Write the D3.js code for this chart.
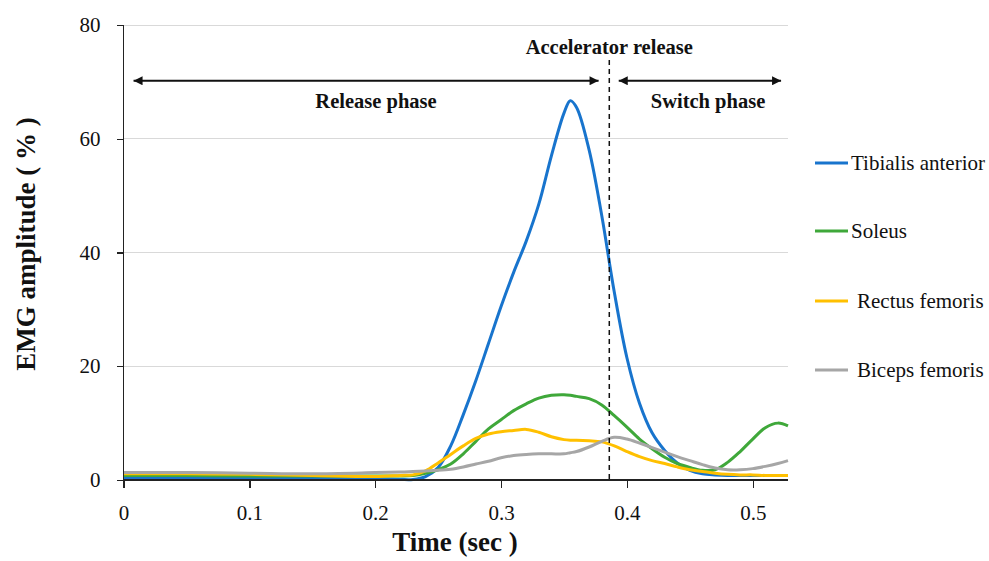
<!DOCTYPE html>
<html lang="en">
<head>
<meta charset="utf-8">
<title>EMG amplitude</title>
<script src="https://d3js.org/d3.v7.min.js"></script>
<style>
  body { margin: 0; background: #fff; }
  svg text { font-family: "Palatino Linotype", "Book Antiqua", Palatino, "Liberation Serif", serif; fill: #111; }
  .axis path, .axis line { stroke: #222; stroke-width: 1.3; shape-rendering: crispEdges; }
  .axis text { font-size: 21px; }
  .grid line { stroke: #d9d9d9; stroke-width: 1; shape-rendering: crispEdges; }
  .series { fill: none; stroke-width: 3; stroke-linejoin: round; }
  .note { font-weight: bold; font-size: 20.5px; }
  .title { font-weight: bold; font-size: 27px; }
  .legend text { font-size: 21px; }
</style>
</head>
<body>
<script>
// time (sec)
var time = [0, 0.05, 0.1, 0.15, 0.2, 0.22, 0.23, 0.24, 0.25, 0.26, 0.27, 0.28, 0.29, 0.30,
            0.31, 0.32, 0.33, 0.34, 0.35, 0.355, 0.36, 0.37, 0.38, 0.39, 0.40, 0.41, 0.42,
            0.43, 0.44, 0.45, 0.46, 0.47, 0.48, 0.49, 0.50, 0.51, 0.52, 0.528];

// EMG amplitude (%)
var tibialis = [0.4, 0.4, 0.4, 0.3, 0.2, 0.1, 0.1, 0.6, 2.2, 6, 11.5, 17.5, 24, 30.5,
                36.5, 42, 48.5, 57, 64.5, 66.7, 65.5, 58, 46.5, 33, 21.5, 13.5, 8.3,
                5.2, 3, 1.7, 1.1, 0.9, 0.8, 0.8, 0.8, 0.8, 0.8, 0.8];
var soleus = [0.8, 0.8, 0.7, 0.7, 0.7, 0.7, 0.8, 1.2, 1.8, 2.8, 4.6, 6.8, 9, 10.6,
              12.2, 13.4, 14.4, 14.9, 15.0, 14.9, 14.7, 14.3, 13.2, 11.3, 9.3, 7.2, 5.5,
              4.0, 2.9, 2.2, 1.7, 1.8, 3.1, 5.0, 7.2, 9.2, 10.0, 9.5];
var rectus = [1.1, 1.1, 1.0, 0.8, 0.6, 0.8, 0.9, 1.6, 3.0, 4.5, 6.0, 7.3, 8.1, 8.5,
              8.7, 8.9, 8.4, 7.6, 7.1, 7.0, 7.0, 6.9, 6.7, 6.0, 5.0, 4.1, 3.4,
              2.9, 2.3, 1.8, 1.5, 1.2, 1.0, 0.9, 0.9, 0.8, 0.8, 0.8];
var biceps = [1.3, 1.3, 1.2, 1.1, 1.3, 1.4, 1.5, 1.6, 1.7, 1.9, 2.3, 2.8, 3.3, 3.9,
              4.3, 4.5, 4.6, 4.6, 4.6, 4.8, 5.0, 5.8, 6.8, 7.5, 7.2, 6.5, 5.7,
              4.9, 4.1, 3.4, 2.7, 2.1, 1.8, 1.8, 2.0, 2.4, 2.9, 3.4];

var seriesNames = ["Tibialis anterior", "Soleus", "Rectus femoris", "Biceps femoris"];
var seriesValues = [tibialis, soleus, rectus, biceps];
var seriesColors = ["#1874cd", "#3fa83a", "#ffc000", "#a6a6a6"];

var xTicks = [0, 0.1, 0.2, 0.3, 0.4, 0.5];
var yTicks = [0, 20, 40, 60, 80];

// annotations, in data units
var releaseTime = 0.386;
var arrowLevel = 70.2;
var releasePhase = [0.008, 0.3775];
var switchPhase = [0.3935, 0.5225];

var w = 989, h = 561;
var plotLeft = 123.5, plotRight = 788, plotTop = 25, plotBottom = 480;

var svg = d3.select("body").append("svg")
    .attr("width", w)
    .attr("height", h);

var xScale = d3.scaleLinear().domain([0, 0.528]).range([plotLeft, plotRight]);
var yScale = d3.scaleLinear().domain([0, 80]).range([plotBottom, plotTop]);

// gridlines
svg.append("g")
    .attr("class", "grid")
    .selectAll("line")
    .data(yTicks.slice(1))
    .enter().append("line")
    .attr("x1", plotLeft).attr("x2", plotRight)
    .attr("y1", function(d) { return yScale(d); })
    .attr("y2", function(d) { return yScale(d); });

// arrow marker
var defs = svg.append("defs");
defs.append("marker")
    .attr("id", "head")
    .attr("viewBox", "0 0 10 10")
    .attr("refX", 10).attr("refY", 5)
    .attr("markerWidth", 11).attr("markerHeight", 9)
    .attr("markerUnits", "userSpaceOnUse")
    .attr("orient", "auto-start-reverse")
    .append("path")
    .attr("d", "M0,0 L10,5 L0,10 Z")
    .attr("fill", "#111");

// lines
var line = d3.line()
    .x(function(d, i) { return xScale(time[i]); })
    .y(function(d) { return yScale(Math.max(0, d)); })
    .curve(d3.curveCatmullRom.alpha(0.5));

svg.selectAll(".series")
    .data(seriesValues)
    .enter().append("path")
    .attr("class", "series")
    .attr("stroke", function(d, i) { return seriesColors[i]; })
    .attr("d", line);

// accelerator release
svg.append("line")
    .attr("x1", xScale(releaseTime)).attr("x2", xScale(releaseTime))
    .attr("y1", 60).attr("y2", plotBottom)
    .attr("stroke", "#111")
    .attr("stroke-width", 1.5)
    .attr("stroke-dasharray", "5,4");

svg.append("text")
    .attr("class", "note")
    .attr("x", xScale(releaseTime))
    .attr("y", 54)
    .attr("text-anchor", "middle")
    .text("Accelerator release");

[releasePhase, switchPhase].forEach(function(p) {
    svg.append("line")
        .attr("x1", xScale(p[0])).attr("x2", xScale(p[1]))
        .attr("y1", yScale(arrowLevel)).attr("y2", yScale(arrowLevel))
        .attr("stroke", "#111")
        .attr("stroke-width", 2)
        .attr("marker-start", "url(#head)")
        .attr("marker-end", "url(#head)");
});

svg.append("text")
    .attr("class", "note")
    .attr("x", 376).attr("y", 108)
    .attr("text-anchor", "middle")
    .text("Release phase");

svg.append("text")
    .attr("class", "note")
    .attr("x", 708).attr("y", 108)
    .attr("text-anchor", "middle")
    .text("Switch phase");

// axes
var xAxis = d3.axisBottom(xScale)
    .tickValues(xTicks)
    .tickSize(8)
    .tickPadding(17)
    .tickFormat(function(d) { return d === 0 ? "0" : d3.format(".1f")(d); });

var yAxis = d3.axisLeft(yScale)
    .tickValues(yTicks)
    .tickSize(7)
    .tickPadding(16)
    .tickFormat(d3.format("d"));

svg.append("g")
    .attr("class", "x axis")
    .attr("transform", "translate(0," + plotBottom + ")")
    .call(xAxis)
    .call(function(g) { g.select(".domain").attr("d", "M" + plotLeft + ",0H" + plotRight); });

svg.append("g")
    .attr("class", "y axis")
    .attr("transform", "translate(" + plotLeft + ",0)")
    .call(yAxis)
    .call(function(g) { g.select(".domain").attr("d", "M0," + plotTop + "V" + plotBottom); });

// axis titles
svg.append("text")
    .attr("class", "title")
    .attr("x", 455).attr("y", 551)
    .attr("text-anchor", "middle")
    .text("Time (sec )");

svg.append("text")
    .attr("class", "title")
    .attr("transform", "translate(35,244) rotate(-90)")
    .attr("text-anchor", "middle")
    .text("EMG amplitude ( % )");

// legend
var legendY = [163, 231, 301, 370];
var legend = svg.append("g").attr("class", "legend");
seriesNames.forEach(function(name, i) {
    var g = legend.append("g").attr("transform", "translate(815," + legendY[i] + ")");
    g.append("line")
        .attr("x1", 0).attr("x2", 33)
        .attr("stroke", seriesColors[i])
        .attr("stroke-width", 3);
    g.append("text")
        .attr("x", i < 2 ? 36 : 42)
        .attr("dy", "0.33em")
        .text(name);
});
</script>
</body>
</html>
